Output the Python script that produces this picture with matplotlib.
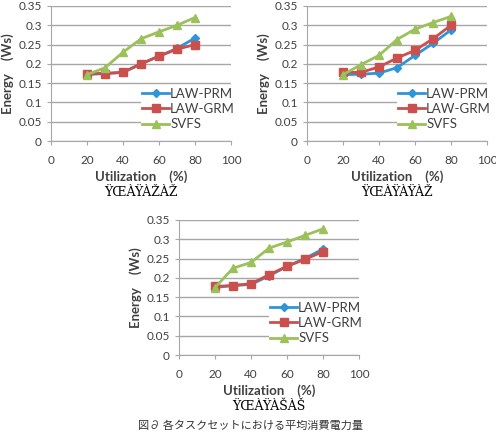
import numpy as np
import matplotlib
matplotlib.use("Agg")
from matplotlib import pyplot as plt

W, H = 496, 433

util = [20, 30, 40, 50, 60, 70, 80]

# (a)
prm_a = [0.172, 0.175, 0.178, 0.200, 0.220, 0.240, 0.267]
grm_a = [0.175, 0.175, 0.178, 0.200, 0.220, 0.238, 0.250]
svfs_a = [0.172, 0.190, 0.230, 0.265, 0.283, 0.300, 0.320]
# (b)
prm_b = [0.172, 0.173, 0.176, 0.190, 0.222, 0.253, 0.288]
grm_b = [0.178, 0.178, 0.192, 0.215, 0.235, 0.265, 0.300]
svfs_b = [0.172, 0.198, 0.222, 0.263, 0.290, 0.307, 0.323]
# (c)
prm_c = [0.175, 0.180, 0.183, 0.205, 0.230, 0.250, 0.275]
grm_c = [0.178, 0.180, 0.185, 0.208, 0.230, 0.248, 0.268]
svfs_c = [0.175, 0.225, 0.240, 0.277, 0.293, 0.310, 0.327]

captions = ["ŸŒÀŸÀŽÀŽ", "ŸŒÀŸÀŸÀŽ", "ŸŒÀŸÀŠÀŠ"]
xticks = [0, 20, 40, 60, 80, 100]
yticks = [0, 0.05, 0.1, 0.15, 0.2, 0.25, 0.3, 0.35]
ytick_labels = ["0", "0.05", "0.1", "0.15", "0.2", "0.25", "0.3", "0.35"]

c_prm = "#2f95d8"
c_grm = "#c9504c"
c_svfs = "#9cc05a"
grey = "#a6a6a6"

plt.rcParams['font.family'] = ['Lato', 'DejaVu Sans']

fig = plt.figure(figsize=(W / 100, H / 100), dpi=100)


def px_axes(l, r, t, b):
    return fig.add_axes([l / W, 1 - b / H, (r - l) / W, (b - t) / H])


def draw(ax, prm, grm, svfs, cap):
    ax.plot(util, prm, color=c_prm, marker="D", markersize=4, lw=2, label="LAW-PRM", zorder=3)
    ax.plot(util, grm, color=c_grm, marker="s", markersize=6, lw=2, label="LAW-GRM", zorder=4)
    ax.plot(util, svfs, color=c_svfs, marker="^", markersize=6, lw=2, label="SVFS", zorder=5)
    ax.set_xlim(0, 100)
    ax.set_ylim(0, 0.35)
    ax.set_xticks(xticks)
    ax.set_yticks(yticks)
    ax.set_yticklabels(ytick_labels)
    ax.grid(axis="y", color=grey, lw=1)
    ax.set_axisbelow(True)
    for s in ["top", "right"]:
        ax.spines[s].set_visible(False)
    for s in ["left", "bottom"]:
        ax.spines[s].set_color(grey)
    ax.tick_params(colors=grey, labelcolor="#404040", labelsize=8.5, length=3)
    ax.tick_params(axis="x", pad=7)
    ax.set_xlabel("Utilization    (%)", fontsize=9.5, fontweight="bold", color="#404040", labelpad=3)
    ax.set_ylabel("Energy    (Ws)", fontsize=9.5, fontweight="bold", color="#404040", labelpad=3)
    leg = ax.legend(loc="lower right", bbox_to_anchor=(1.03, 0.07), frameon=True, fontsize=9.5,
                    handlelength=2.0, handletextpad=0.1, labelspacing=0.25, borderpad=0.1,
                    borderaxespad=0)
    leg.get_frame().set_facecolor("white")
    leg.get_frame().set_edgecolor("none")
    leg.get_frame().set_alpha(1)
    for t in leg.get_texts():
        t.set_color("#404040")
    ax.text(0.5, -0.38, cap, transform=ax.transAxes, ha="center", va="center",
            fontsize=9, family="DejaVu Serif")


ax1 = px_axes(51, 231, 6, 141)
draw(ax1, prm_a, grm_a, svfs_a, captions[0])
ax2 = px_axes(307, 487, 6, 141)
draw(ax2, prm_b, grm_b, svfs_b, captions[1])
ax3 = px_axes(179, 359, 220, 355)
draw(ax3, prm_c, grm_c, svfs_c, captions[2])

fig.text(250 / W, 1 - 426 / H, "図∂ 各タスクセットにおける平均消費電力量", ha="center", va="center",
         fontsize=8, family=["Noto Sans CJK JP", "DejaVu Sans"], color="#333333")

plt.savefig("out.png", dpi=100)
